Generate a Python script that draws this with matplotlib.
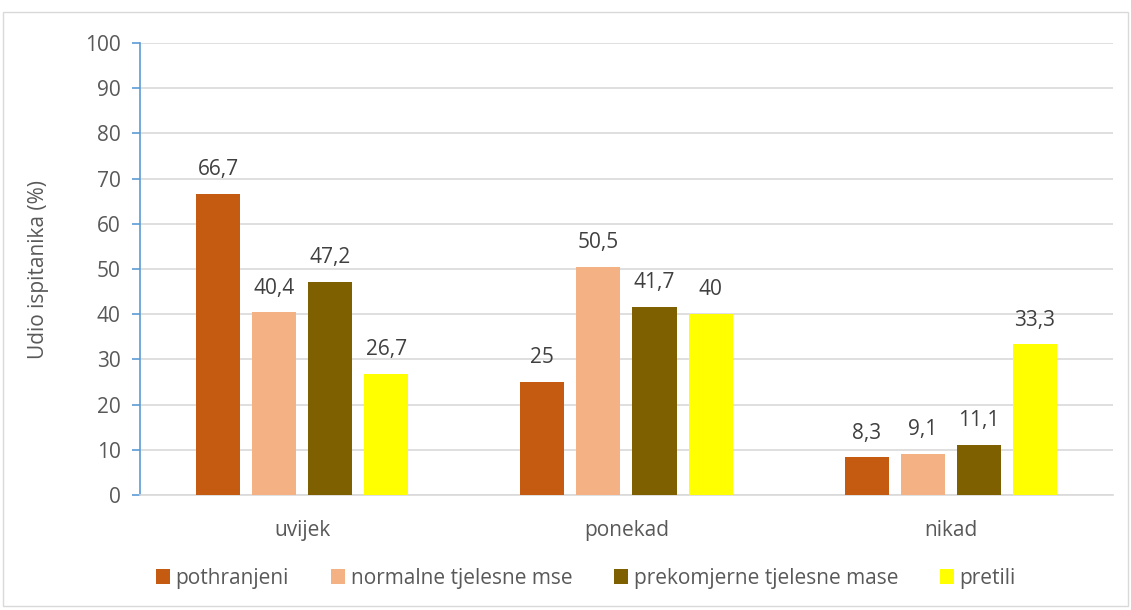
import matplotlib
matplotlib.use("Agg")
import matplotlib.pyplot as plt
import numpy as np
from matplotlib.patches import Rectangle

categories = ["uvijek", "ponekad", "nikad"]
series_names = ["pothranjeni", "normalne tjelesne mse", "prekomjerne tjelesne mase", "pretili"]
pothranjeni = [66.7, 25, 8.3]
normalne = [40.4, 50.5, 9.1]
prekomjerne = [47.2, 41.7, 11.1]
pretili = [26.7, 40, 33.3]
value_labels = [["66,7", "25", "8,3"], ["40,4", "50,5", "9,1"], ["47,2", "41,7", "11,1"], ["26,7", "40", "33,3"]]
yticks = [0, 10, 20, 30, 40, 50, 60, 70, 80, 90, 100]

colors = ["#C55A11", "#F4B183", "#7F6000", "#FFFF00"]
txt = "#595959"
plt.rcParams['font.family'] = ['Open Sans', 'DejaVu Sans']
fs = 15

fig = plt.figure(figsize=(11.31, 6.10), dpi=100)
fig.patches.append(Rectangle((0.003, 0.007), 0.994, 0.973, transform=fig.transFigure,
                             fill=False, edgecolor="#D9D9D9", linewidth=1))
ax = fig.add_axes([0.1238, 0.1885, 0.8602, 0.741])

x = np.arange(len(categories))
w = 0.136
step = 0.173
data = [pothranjeni, normalne, prekomjerne, pretili]
for i, (vals, c, name) in enumerate(zip(data, colors, series_names)):
    bars = ax.bar(x + (i - 1.5) * step, vals, width=w, color=c, label=name, zorder=3)
    for b, lab in zip(bars, value_labels[i]):
        ax.annotate(lab, (b.get_x() + b.get_width() / 2, b.get_height()),
                    xytext=(0, 10), textcoords="offset points", ha="center", va="bottom",
                    fontsize=fs, color="#404040")

ax.set_xlim(-0.5, 2.5)
ax.set_ylim(0, 100)
ax.set_yticks(yticks)
ax.set_yticklabels([str(t) for t in yticks], fontsize=fs, color=txt)
ax.set_xticks(x)
ax.set_xticklabels(categories, fontsize=fs, color=txt)
ax.tick_params(axis="x", length=0, pad=18)
ax.tick_params(axis="y", length=6, color="#5B9BD5", width=1.2, pad=8)
ax.grid(axis="y", color="#D9D9D9", linewidth=1.2, zorder=0)
for s in ["top", "right"]:
    ax.spines[s].set_visible(False)
ax.spines["left"].set_color("#5B9BD5")
ax.spines["left"].set_linewidth(1.2)
ax.spines["bottom"].set_color("#D9D9D9")
ax.spines["bottom"].set_linewidth(1.2)
ax.set_ylabel("Udio ispitanika (%)", fontsize=fs, color=txt, labelpad=26)

leg = fig.legend(loc="center", bbox_to_anchor=(0.518, 0.052), ncol=4, frameon=False,
                 fontsize=fs, handlelength=0.7, handleheight=0.7, handletextpad=0.25,
                 columnspacing=2.0)
for t in leg.get_texts():
    t.set_color(txt)

fig.savefig("out.png", dpi=100)
